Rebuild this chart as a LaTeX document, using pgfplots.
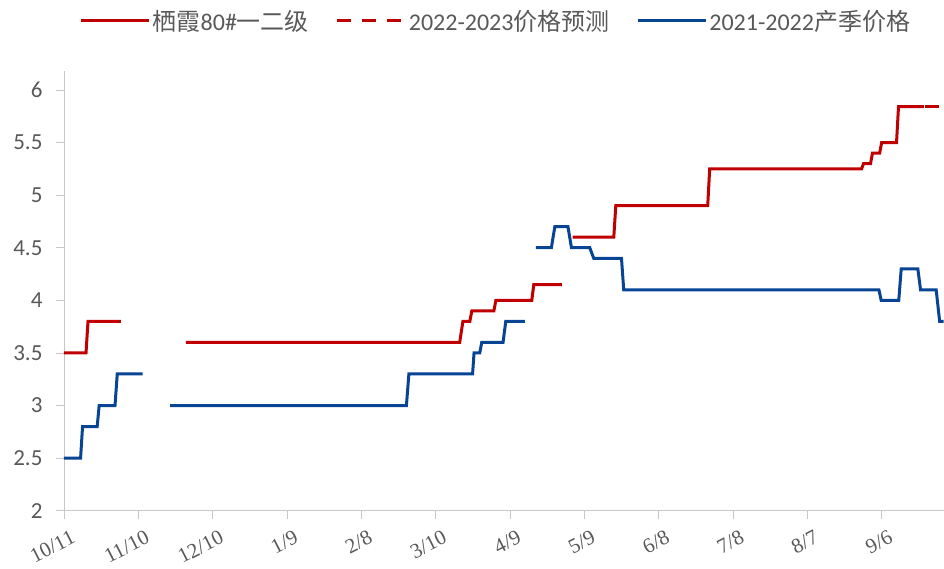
\documentclass[border=0pt]{standalone}
\usepackage{pgfplots}
\pgfplotsset{compat=1.18}
\usepackage{fontspec}
\setmainfont{Carlito}
\newfontfamily\cjk{Noto Sans CJK SC}
\newfontfamily\xlab{Liberation Serif}
\definecolor{cred}{RGB}{192,0,0}
\definecolor{cblue}{RGB}{8,68,148}
\definecolor{txtgray}{RGB}{89,89,89}
\definecolor{axgray}{RGB}{200,200,200}
\begin{document}
\begin{tikzpicture}
\begin{axis}[
  scale only axis,
  width=880pt, height=440pt,
  xmin=0, xmax=355, ymin=2, ymax=6.18,
  axis x line*=bottom, axis y line*=left,
  axis line style={axgray, line width=0.8pt},
  major tick style={axgray, line width=0.8pt},
  tick align=outside, major tick length=8pt,
  xtick={0,30,...,330},
  xticklabels={10/11,11/10,12/10,1/9,2/8,3/10,4/9,5/9,6/8,7/8,8/7,9/6},
  ytick={2,2.5,...,6},
  /pgf/number format/assume math mode=true,
  /pgf/number format/fixed,
  yticklabel style={font=\fontsize{23}{25}\selectfont, text=txtgray, xshift=-10pt},
  xticklabel style={font=\xlab\fontsize{21}{23}\selectfont, text=txtgray,
    rotate=27, anchor=north east, yshift=-9pt, xshift=4pt},
  unbounded coords=jump,
  legend columns=3,
  legend style={draw=none, fill=none, at={(0.491,1)}, anchor=center, yshift=50pt,
    font=\fontsize{24}{26}\selectfont, text=txtgray,
    /tikz/every even column/.append style={column sep=25pt}},
  legend image code/.code={\draw[#1] (0pt,0pt) -- (68pt,0pt);},
]
\addplot[cred, line width=3pt, sharp plot] table {
x y
0 3.5
8.9 3.5
9.7 3.8
23 3.8
nan nan
49.2 3.6
159.7 3.6
161 3.8
163.8 3.8
164.6 3.9
173.5 3.9
174.3 4.0
188.8 4.0
189.6 4.15
200.9 4.15
nan nan
205.3 4.6
221.9 4.6
222.7 4.9
259.8 4.9
260.6 5.25
321.9 5.25
322.7 5.3
325.5 5.3
326.3 5.4
329.2 5.4
330 5.5
336 5.5
336.8 5.84
347 5.84
};
\addlegendentry{\cjk 栖霞\rmfamily 80\#\cjk 一二级}
\addplot[cred, line width=3pt, dash pattern=on 14pt off 11pt] table {
x y
347.4 5.84
353 5.84
};
\addlegendentry{2022-2023\cjk 价格预测}
\addplot[cblue, line width=3pt] table {
x y
0 2.5
6.7 2.5
7.5 2.8
13.4 2.8
14.2 3.0
20.6 3.0
21.5 3.3
31.7 3.3
nan nan
42.8 3.0
138.2 3.0
139.2 3.3
164.9 3.3
165.5 3.5
167.8 3.5
168.6 3.6
177.2 3.6
178.3 3.8
186 3.8
nan nan
190.4 4.5
196.7 4.5
198.1 4.7
203.4 4.7
204.8 4.5
212.2 4.5
213.8 4.4
225 4.4
225.9 4.1
328.9 4.1
329.8 4.0
336.9 4.0
337.9 4.3
344.6 4.3
345.7 4.1
352 4.1
353.4 3.8
355 3.8
};
\addlegendentry{2021-2022\cjk 产季价格}
\coordinate (sw) at (rel axis cs:0,0);
\coordinate (ne) at (rel axis cs:1,1);
\end{axis}
\path ([shift={(-64pt,-58pt)}]sw) rectangle ([shift={(0pt,71pt)}]ne);
\end{tikzpicture}
\end{document}
